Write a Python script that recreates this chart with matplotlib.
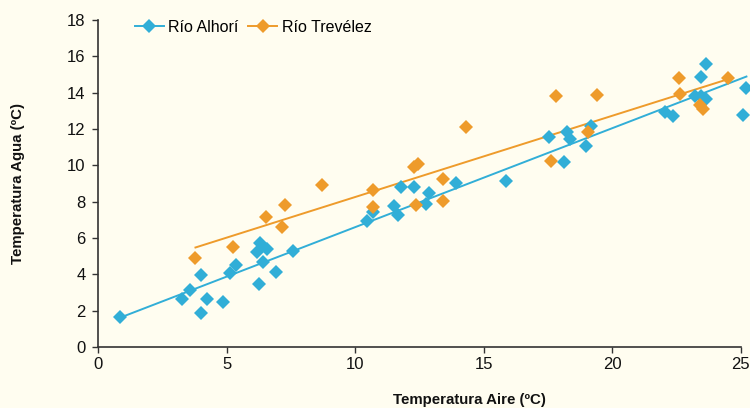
import numpy as np
import matplotlib
matplotlib.use("Agg")
import matplotlib.pyplot as plt
from matplotlib.lines import Line2D

# Río Alhorí: air temperature vs water temperature (ºC)
alhori_aire = [0.86, 3.25, 3.58, 4.02, 4.02, 4.22, 4.85, 5.15, 5.38, 6.31, 6.18,
               6.56, 6.43, 6.92, 6.27, 7.57, 10.48, 10.70, 11.51, 11.68, 11.80,
               12.29, 12.75, 12.88, 13.92, 15.86, 17.55, 18.12, 18.26, 18.35,
               18.97, 19.17, 22.05, 22.37, 23.21, 23.44, 23.66, 23.47, 23.66,
               25.09, 25.22]
alhori_agua = [1.64, 2.62, 3.14, 3.96, 1.89, 2.64, 2.49, 4.10, 4.50, 5.71, 5.21,
               5.38, 4.66, 4.11, 3.45, 5.28, 6.93, 7.41, 7.76, 7.26, 8.79,
               8.79, 7.85, 8.46, 9.00, 9.14, 11.54, 10.20, 11.81, 11.43,
               11.06, 12.16, 12.92, 12.73, 13.81, 14.88, 15.57, 13.81, 13.63,
               12.77, 14.24]

# Río Trevélez
trevelez_aire = [3.79, 5.26, 6.53, 7.15, 7.27, 8.70, 10.68, 10.68, 12.30, 12.45,
                 12.35, 13.43, 13.43, 14.31, 17.60, 17.80, 19.07, 19.39, 22.60,
                 22.65, 23.40, 23.55, 24.50]
trevelez_agua = [4.88, 5.49, 7.15, 6.62, 7.80, 8.92, 8.64, 7.72, 9.90, 10.05,
                 7.81, 9.23, 8.05, 12.12, 10.25, 13.83, 11.85, 13.87, 14.80,
                 13.92, 13.30, 13.10, 14.80]

series_names = ["Río Alhorí", "Río Trevélez"]
x_ticks = [0, 5, 10, 15, 20, 25]
y_ticks = [0, 2, 4, 6, 8, 10, 12, 14, 16, 18]

BLUE = "#31AED7"
ORANGE = "#EE9B2B"
BG = "#FFFDF0"
MS = 7.2

fig = plt.figure(figsize=(7.5, 4.08), dpi=100, facecolor=BG)
ax = fig.add_axes([0.1307, 0.1495, 0.857, 0.8015], facecolor=BG)

for xs, ys, color in [(alhori_aire, alhori_agua, BLUE),
                      (trevelez_aire, trevelez_agua, ORANGE)]:
    xs = np.asarray(xs)
    ys = np.asarray(ys)
    slope, intercept = np.polyfit(xs, ys, 1)
    xl = np.array([xs.min(), xs.max()])
    ax.plot(xl, slope * xl + intercept, color=color, lw=1.4, zorder=2,
            clip_on=False)
    ax.plot(xs, ys, linestyle="none", marker="D", ms=MS, color=color,
            markeredgewidth=0, zorder=3, clip_on=False)

ax.set_xlim(0, 25)
ax.set_ylim(0, 18)
ax.set_xticks(x_ticks)
ax.set_yticks(y_ticks)
ax.tick_params(direction="out", length=4, width=1, color="#333333",
               labelsize=12, labelcolor="#111111")
ax.tick_params(axis="x", pad=3)
ax.tick_params(axis="y", pad=5)
for s in ["top", "right"]:
    ax.spines[s].set_visible(False)
for s in ["left", "bottom"]:
    ax.spines[s].set_color("#333333")
    ax.spines[s].set_linewidth(1.2)

label_font = dict(family=["Liberation Sans", "DejaVu Sans"],
                  weight="bold", size=10.8, color="#111111")
ax.set_xlabel("Temperatura Aire (ºC)", **label_font)
ax.set_ylabel("Temperatura Agua (ºC)", **label_font)
ax.xaxis.set_label_coords(0.578, -0.14)
ax.yaxis.set_label_coords(-0.113, 0.5)

for lab in ax.get_xticklabels() + ax.get_yticklabels():
    lab.set_family(["Liberation Sans", "DejaVu Sans"])

handles = [Line2D([], [], color=BLUE, marker="D", ms=MS, mew=0, lw=1.4),
           Line2D([], [], color=ORANGE, marker="D", ms=MS, mew=0, lw=1.4)]
ax.legend(handles, series_names, loc="upper left", bbox_to_anchor=(0.035, 1.045),
          ncol=2, frameon=False, handlelength=1.8, handletextpad=0.3,
          columnspacing=0.6,
          prop=dict(family=["Liberation Sans", "DejaVu Sans"], size=11.5))

fig.savefig("out.png", dpi=100, facecolor=BG)
